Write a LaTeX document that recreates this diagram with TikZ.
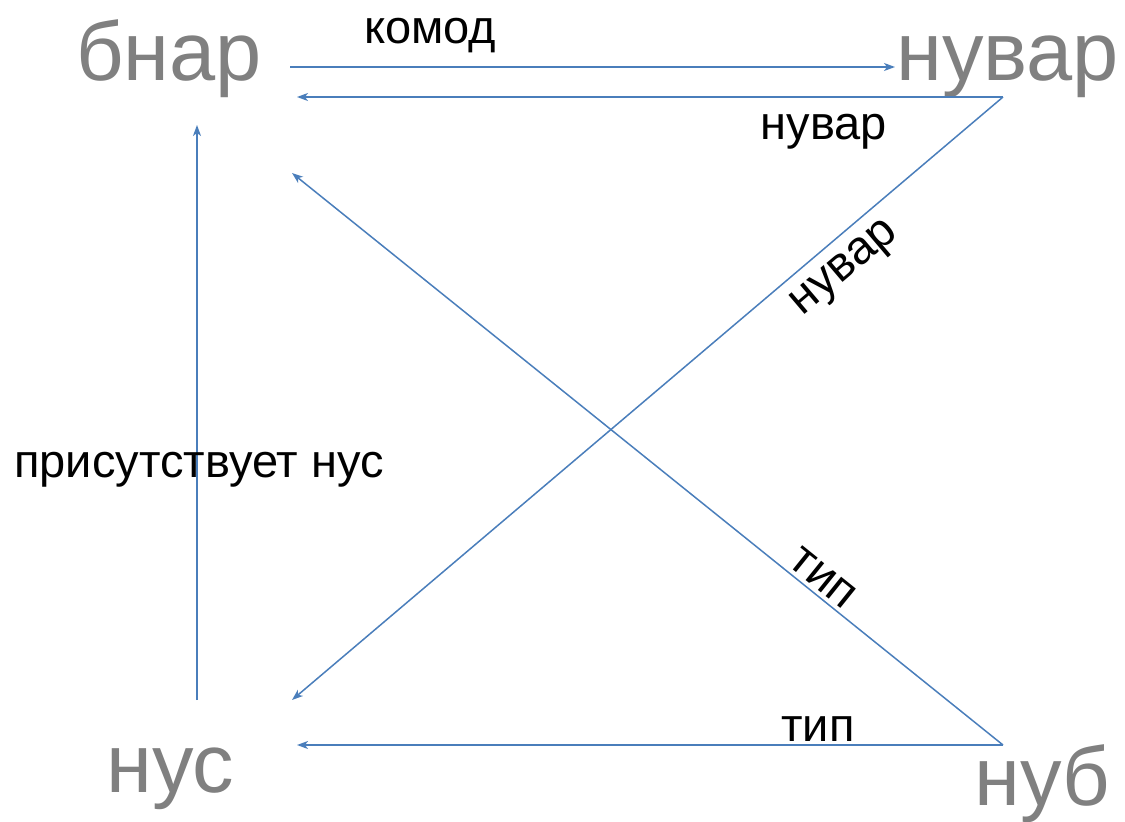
\documentclass[tikz,border=0pt]{standalone}
\usepackage{fontspec}
\setmainfont{Liberation Sans}
\usetikzlibrary{arrows.meta}
\definecolor{conn}{HTML}{4A7EBB}
\definecolor{big}{HTML}{808080}
\tikzset{
  bigtext/.style={font=\fontsize{83}{92}\selectfont, text=big, inner sep=0pt, anchor=base west},
  lbl/.style={font=\fontsize{47}{54}\selectfont, text=black, inner sep=0pt},
  conn/.style={draw=conn, line width=1.5pt, -{Stealth[length=11pt,width=8pt,inset=3pt]}}
}
\begin{document}
\begin{tikzpicture}[x=1pt,y=-1pt]
\useasboundingbox (0,0) rectangle (1125,822);
% big labels
\node[bigtext] (bnar) at (76,80) {бнар};
\node[bigtext] (nuvar) at (896,80) {нувар};
\node[bigtext] (nus) at (106,792) {нус};
\node[bigtext] (nub) at (974,805) {нуб};
% endpoints
\coordinate (p1) at (290,67);
\coordinate (p2) at (895,67);
\coordinate (p3) at (1003,97);
\coordinate (p4) at (297,97);
\coordinate (p5) at (292,700);
\coordinate (p6) at (1003,745);
\coordinate (p7) at (292,173);
\coordinate (p8) at (297,745);
\coordinate (p9) at (197,700);
\coordinate (p10) at (197,125);
% connectors
\draw[conn] (p1) -- (p2);
\draw[conn] (p3) -- (p4);
\draw[conn] (p3) -- (p5);
\draw[conn] (p6) -- (p7);
\draw[conn] (p6) -- (p8);
\draw[conn] (p9) -- (p10);
% labels
\node[lbl, anchor=base west] (l1) at (364,43) {комод};
\node[lbl, anchor=base] (l2) at (824,139) {нувар};
\node[lbl, rotate=40.3] (l3) at (846,270) {нувар};
\node[lbl, rotate=-38.8] (l4) at (823,578) {тип};
\node[lbl, anchor=base] (l5) at (818,741) {тип};
\node[lbl, anchor=base west] (l6) at (14,477) {присутствует нус};
\end{tikzpicture}
\end{document}
